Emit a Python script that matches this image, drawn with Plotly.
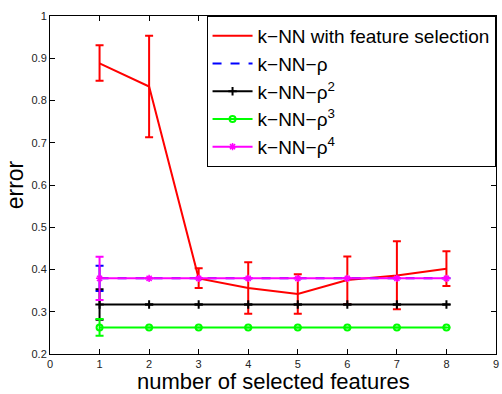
import plotly.graph_objects as go

x = [1, 2, 3, 4, 5, 6, 7, 8]

fs_mean = [0.888, 0.833, 0.379, 0.356, 0.342, 0.375, 0.386, 0.402]
fs_upper = [0.931, 0.953, 0.403, 0.417, 0.389, 0.431, 0.467, 0.443]
fs_lower = [0.847, 0.713, 0.356, 0.295, 0.295, 0.318, 0.306, 0.361]

rho1 = [0.379] * 8
rho1_err = [0.030, 0, 0, 0, 0, 0, 0, 0]
rho2 = [0.317] * 8
rho2_err = [0.036, 0, 0, 0, 0, 0, 0, 0]
rho3 = [0.263] * 8
rho3_err = [0.020, 0, 0, 0, 0, 0, 0, 0]
rho4 = [0.379] * 8
rho4_err = [0.051, 0, 0, 0, 0, 0, 0, 0]

names = ["k\u2212NN with feature selection", "k\u2212NN\u2212\u03c1",
         "k\u2212NN\u2212\u03c1<sup>2</sup>", "k\u2212NN\u2212\u03c1<sup>3</sup>",
         "k\u2212NN\u2212\u03c1<sup>4</sup>"]

x_title = "number of selected features"
y_title = "error"

x_ticks = [0, 1, 2, 3, 4, 5, 6, 7, 8, 9]
y_ticks = [0.2, 0.3, 0.4, 0.5, 0.6, 0.7, 0.8, 0.9, 1.0]
y_tick_labels = ["0.2", "0.3", "0.4", "0.5", "0.6", "0.7", "0.8", "0.9", "1"]

fig = go.Figure()

err_plus = [u - m for u, m in zip(fs_upper, fs_mean)]
err_minus = [m - l for m, l in zip(fs_mean, fs_lower)]

fig.add_trace(go.Scatter(
    x=x, y=fs_mean, mode="lines", name=names[0], legendgroup="a",
    line=dict(color="#ff0000", width=2),
    error_y=dict(type="data", array=err_plus, arrayminus=err_minus,
                 color="#ff0000", thickness=2, width=4),
))
fig.add_trace(go.Scatter(
    x=x, y=rho1, mode="lines", name=names[1], legendgroup="b",
    line=dict(color="#0000ff", width=2, dash="dash"),
    error_y=dict(type="data", array=rho1_err, color="#0000ff", thickness=2, width=4),
))
fig.add_trace(go.Scatter(
    x=x, y=rho2, mode="lines+markers", name=names[2], legendgroup="c",
    line=dict(color="#000000", width=2),
    marker=dict(symbol="cross-thin-open", size=6, line=dict(color="#000000", width=2)),
    error_y=dict(type="data", array=rho2_err, color="#000000", thickness=2, width=4),
))
fig.add_trace(go.Scatter(
    x=x, y=rho3, mode="lines+markers", name=names[3], legendgroup="d",
    line=dict(color="#00ff00", width=2),
    marker=dict(symbol="circle-open", size=6, line=dict(color="#00ff00", width=2)),
    error_y=dict(type="data", array=rho3_err, color="#00ff00", thickness=2, width=4),
))
fig.add_trace(go.Scatter(
    x=x, y=rho4, mode="lines+markers", name=names[4], legendgroup="e",
    line=dict(color="#ff00ff", width=2),
    marker=dict(symbol="asterisk-open", size=6, line=dict(color="#ff00ff", width=1.5)),
    error_y=dict(type="data", array=rho4_err, color="#ff00ff", thickness=2, width=4),
))

axis_common = dict(
    showgrid=False, zeroline=False, showline=True, linecolor="black", linewidth=1,
    mirror="ticks", ticks="inside", ticklen=5, tickcolor="black", automargin=False,
    tickfont=dict(family="Liberation Sans, Arial, sans-serif", size=11, color="#222"),
)

fig.update_layout(
    width=502, height=394,
    margin=dict(l=50, r=6, t=16, b=40, autoexpand=False),
    paper_bgcolor="white", plot_bgcolor="white",
    font=dict(family="Liberation Sans, Arial, sans-serif", color="black"),
    xaxis=dict(range=[0, 9], tickvals=x_ticks, **axis_common),
    yaxis=dict(range=[0.2, 1.0], tickvals=y_ticks, ticktext=y_tick_labels,
               title=dict(text=y_title, font=dict(size=23), standoff=1),
               **axis_common),
    legend=dict(x=0.351, y=1.0, xanchor="left", yanchor="top",
                bgcolor="white", bordercolor="black", borderwidth=1,
                font=dict(size=19), tracegroupgap=0, itemwidth=40),
    showlegend=True,
    annotations=[dict(text=x_title, xref="paper", yref="paper", x=0.5, y=-0.0828,
                      xanchor="center", yanchor="middle", showarrow=False,
                      font=dict(size=22, color="black"))],
)

fig.write_html("out.html")
